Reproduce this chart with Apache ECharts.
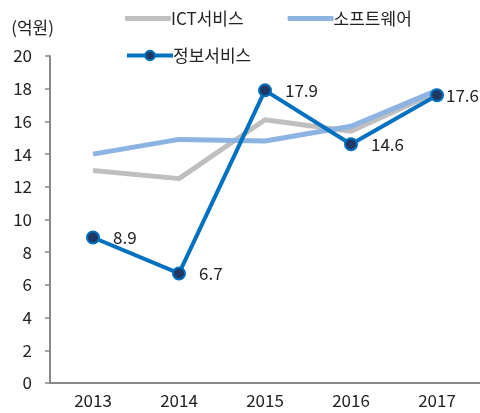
<!DOCTYPE html>
<html>
<head>
<meta charset="utf-8">
<script src="https://cdn.jsdelivr.net/npm/echarts@6/dist/echarts.min.js"></script>
<style>
  html, body { margin: 0; padding: 0; background: #fff; }
  #chart { width: 480px; height: 413px; }
</style>
</head>
<body>
<div id="chart"></div>
<script>
// 연도 및 시리즈 값
const years = ['2013', '2014', '2015', '2016', '2017'];
const ictService = [13.0, 12.5, 16.1, 15.4, 17.8];
const software = [14.0, 14.9, 14.8, 15.7, 17.9];
const infoService = [8.9, 6.7, 17.9, 14.6, 17.6];

const FONT = '"Noto Sans CJK KR", "Noto Sans", sans-serif';
const TEXT = '#222';
const SIZE = 17;

const chart = echarts.init(document.getElementById('chart'));

// 마지막 라벨은 오른쪽 끝이라 점에 더 붙여서 표시
const infoData = infoService.map((v, i) =>
    i === infoService.length - 1 ? { value: v, label: { distance: 2 } } : v
);

const option = {
    animation: false,
    textStyle: { fontFamily: FONT },
    legend: [
        {
            left: 120,
            top: 5,
            itemWidth: 46,
            itemHeight: 5,
            itemGap: 44,
            data: [
                { name: 'ICT서비스', icon: 'roundRect' },
                { name: '소프트웨어', icon: 'roundRect' }
            ],
            textStyle: { fontFamily: FONT, fontSize: SIZE, color: TEXT, padding: [0, 0, 0, -5] }
        },
        {
            left: 120,
            top: 42,
            itemWidth: 46,
            itemHeight: 12,
            data: ['정보서비스'],
            lineStyle: { width: 4 },
            textStyle: { fontFamily: FONT, fontSize: SIZE, color: TEXT, padding: [0, 0, 0, -5] }
        }
    ],
    grid: { left: 50, top: 56, right: -3, bottom: 30 },
    xAxis: {
        type: 'category',
        data: years,
        axisLine: { lineStyle: { color: '#888', width: 2 } },
        axisTick: { length: 4, lineStyle: { color: '#888', width: 1.5 } },
        axisLabel: { fontFamily: FONT, fontSize: SIZE, color: TEXT, margin: 9 }
    },
    yAxis: {
        type: 'value',
        min: 0,
        max: 20,
        interval: 2,
        name: '(억원)',
        nameLocation: 'end',
        nameGap: 20,
        nameTextStyle: { fontFamily: FONT, fontSize: SIZE, color: TEXT, align: 'right', padding: [0, -4, 0, 0] },
        axisLine: { show: true, lineStyle: { color: '#888', width: 2 } },
        axisTick: { show: true, length: 5, lineStyle: { color: '#888', width: 1.5 } },
        splitLine: { show: false },
        axisLabel: { fontFamily: FONT, fontSize: SIZE, color: TEXT, margin: 18 }
    },
    series: [
        {
            name: 'ICT서비스',
            type: 'line',
            data: ictService,
            symbol: 'none',
            lineStyle: { color: '#bfbfbf', width: 5 },
            itemStyle: { color: '#bfbfbf' }
        },
        {
            name: '소프트웨어',
            type: 'line',
            data: software,
            symbol: 'none',
            lineStyle: { color: '#8db3e2', width: 5 },
            itemStyle: { color: '#8db3e2' }
        },
        {
            name: '정보서비스',
            type: 'line',
            data: infoData,
            symbol: 'circle',
            symbolSize: 12,
            lineStyle: { color: '#0070c0', width: 4 },
            itemStyle: { color: '#1f3864', borderColor: '#0070c0', borderWidth: 2 },
            label: {
                show: true,
                position: 'right',
                distance: 13,
                fontFamily: FONT,
                fontSize: SIZE,
                color: TEXT,
                formatter: p => p.value.toFixed(1)
            }
        }
    ]
};

chart.setOption(option);
</script>
</body>
</html>
